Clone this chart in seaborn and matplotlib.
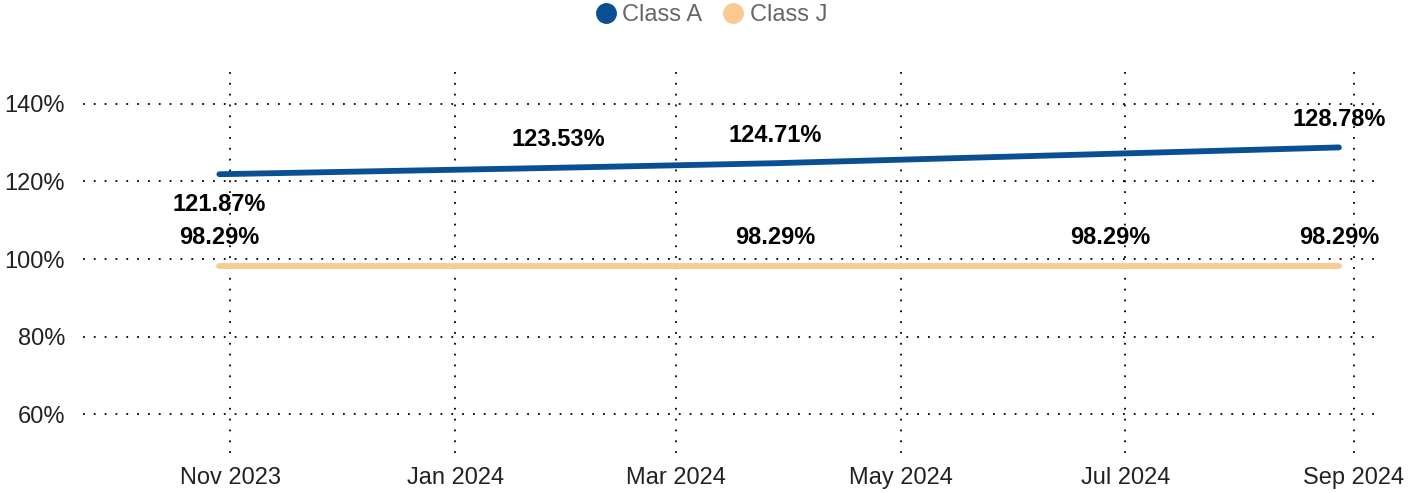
import pandas as pd
import matplotlib.pyplot as plt
import matplotlib.dates as mdates
from matplotlib.lines import Line2D
import seaborn as sns

# data
dates_a = ['2023-10-29', '2024-01-29', '2024-03-28', '2024-08-28']
values_a = [121.87, 123.53, 124.71, 128.78]
dates_j = ['2023-10-29', '2024-03-28', '2024-06-27', '2024-08-28']
values_j = [98.29, 98.29, 98.29, 98.29]
series_names = ['Class A', 'Class J']
colors = ['#0b4f93', '#f9ca92']

df = pd.concat([
    pd.DataFrame({'date': pd.to_datetime(dates_a), 'value': values_a, 'series': series_names[0]}),
    pd.DataFrame({'date': pd.to_datetime(dates_j), 'value': values_j, 'series': series_names[1]}),
])

sns.set_style('white')
plt.rcParams['font.family'] = ['Liberation Sans', 'DejaVu Sans']

fig = plt.figure(figsize=(14.09, 4.93), dpi=100)
ax = fig.add_axes([0.059, 0.081, 0.920, 0.787])

sns.lineplot(data=df, x='date', y='value', hue='series', palette=colors,
             linewidth=4.2, legend=False, ax=ax, solid_capstyle='round')

# value labels
for i, (d, v) in enumerate(zip(pd.to_datetime(dates_a), values_a)):
    off = -30 if i == 0 else 28
    ax.annotate(f'{v:.2f}%', (d, v), xytext=(0, off), textcoords='offset pixels',
                ha='center', va='center', fontsize=17, fontweight='bold', color='black')
for d, v in zip(pd.to_datetime(dates_j), values_j):
    ax.annotate(f'{v:.2f}%', (d, v), xytext=(0, 28), textcoords='offset pixels',
                ha='center', va='center', fontsize=17, fontweight='bold', color='black')

ax.set_ylim(50, 150)
ax.set_yticks([60, 80, 100, 120, 140])
ax.set_yticklabels([f'{t}%' for t in [60, 80, 100, 120, 140]])
ax.set_xlim(pd.Timestamp('2023-09-22'), pd.Timestamp('2024-09-08'))
ax.xaxis.set_major_locator(mdates.MonthLocator(bymonth=[1, 3, 5, 7, 9, 11]))
ax.xaxis.set_major_formatter(mdates.DateFormatter('%b %Y'))

ax.grid(True, color='black', linestyle=(0, (1, 5)), linewidth=1.3)
for s in ax.spines.values():
    s.set_visible(False)
ax.tick_params(axis='both', length=0, labelsize=17, colors='#222222')
ax.tick_params(axis='y', pad=13)
ax.tick_params(axis='x', pad=10)
ax.set_xlabel('')
ax.set_ylabel('')

handles = [Line2D([], [], marker='o', linestyle='none', markersize=14,
                  markerfacecolor=c, markeredgecolor=c) for c in colors]
fig.legend(handles, series_names, loc='upper center', bbox_to_anchor=(0.5, 1.035),
           ncol=2, frameon=False, fontsize=17, labelcolor='#666666',
           handletextpad=-0.3, columnspacing=0.3)

fig.savefig('out.png', dpi=100)
